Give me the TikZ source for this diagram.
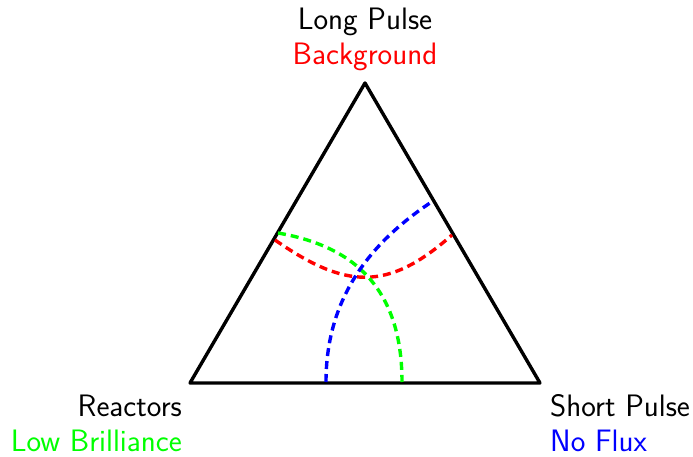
\documentclass[tikz,border=0pt]{standalone}
\usetikzlibrary{positioning}
\begin{document}
\begin{tikzpicture}[x=1pt,y=1pt,
  lbl/.style={font=\sffamily\fontsize{31}{37}\selectfont, inner sep=0pt},
  edge/.style={line width=3.4pt, line join=round},
  arcline/.style={line width=3.4pt, dash pattern=on 8pt off 5pt}]
\useasboundingbox (0,0) rectangle (693,456);
\coordinate (A) at (365,373);
\coordinate (L) at (190,73);
\coordinate (R) at (540,73);
\draw[edge] (A) -- (L) -- (R) -- cycle;
% arcs
\coordinate (r0) at (275,216);
\coordinate (r1) at (452,221);
\draw[arcline, red] (r0) .. controls (345.5,167) and (387.5,164) .. (r1);
\coordinate (g0) at (278,223);
\coordinate (g1) at (402,74);
\draw[arcline, green] (g0) .. controls (347,211) and (402,174) .. (g1);
\coordinate (b0) at (326,74);
\coordinate (b1) at (433,255);
\draw[arcline, blue] (b0) .. controls (326,154) and (366,211) .. (b1);
% labels
\node[lbl, anchor=base] (lp) at (365,426) {Long Pulse};
\node[lbl, anchor=base, text=red] (bg) at (365,391) {Background};
\node[lbl, anchor=base east] (re) at (182,40) {Reactors};
\node[lbl, anchor=base east, text=green] (lb) at (182,5) {Low Brilliance};
\node[lbl, anchor=base west] (sp) at (550,40) {Short Pulse};
\node[lbl, anchor=base west, text=blue] (nf) at (550,5) {No Flux};
\end{tikzpicture}
\end{document}
